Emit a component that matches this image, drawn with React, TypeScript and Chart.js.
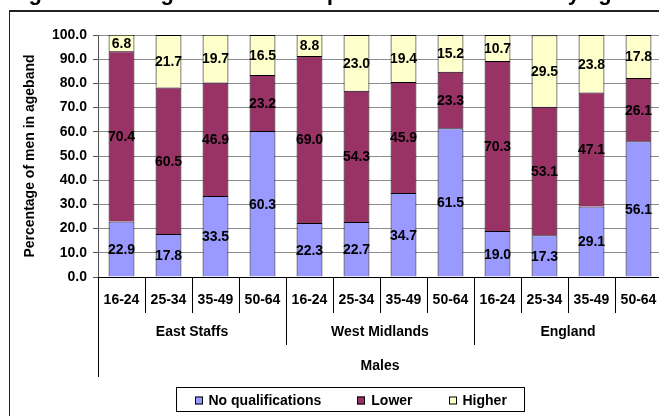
import React, { useEffect, useRef } from "react";
import { Chart, registerables } from "chart.js";

Chart.register(...registerables);

// ---------- data ----------
const ageBands = ["16-24", "25-34", "35-49", "50-64"];
const areas = ["East Staffs", "West Midlands", "England"];
const categories = areas.flatMap(() => ageBands);
const noQualifications = [22.9, 17.8, 33.5, 60.3, 22.3, 22.7, 34.7, 61.5, 19.0, 17.3, 29.1, 56.1];
const lowerQualifications = [70.4, 60.5, 46.9, 23.2, 69.0, 54.3, 45.9, 23.3, 70.3, 53.1, 47.1, 26.1];
const higherQualifications = [6.8, 21.7, 19.7, 16.5, 8.8, 23.0, 19.4, 15.2, 10.7, 29.5, 23.8, 17.8];
const seriesNames = ["No qualifications", "Lower", "Higher"];
const seriesColors = ["#9999FF", "#993366", "#FFFFCC"];
const yMin = 0;
const yMax = 100;
const yStep = 10;
const outerAxisLabel = "Males";
const yAxisTitle = "Percentage of men in ageband";
const chartTitle = "Figure 3.13: Highest levels of qualifications for men by ageband";

// ---------- layout constants ----------
const CANVAS_W = 670;
const CANVAS_H = 430;
const FONT = '"Liberation Sans", Arial, sans-serif';

const decorPlugin = {
  id: "decor",
  afterDatasetsDraw(chart: any) {
    const ctx = chart.ctx;
    ctx.save();
    ctx.font = `bold 14px ${FONT}`;
    ctx.fillStyle = "#000";
    ctx.textAlign = "center";
    ctx.textBaseline = "middle";
    chart.data.datasets.forEach((ds: any, di: number) => {
      const meta = chart.getDatasetMeta(di);
      meta.data.forEach((el: any, i: number) => {
        const v = ds.data[i];
        const y = (el.y + el.base) / 2;
        ctx.fillText(Number(v).toFixed(1), el.x, y + 1);
      });
    });
    ctx.restore();
  },
  afterDraw(chart: any) {
    const ctx = chart.ctx;
    const area = chart.chartArea;
    const xs = chart.scales.x;
    ctx.save();

    // title (cut off at the top edge)
    ctx.font = `bold 22px ${FONT}`;
    ctx.fillStyle = "#000";
    ctx.textAlign = "left";
    ctx.textBaseline = "alphabetic";
    ctx.fillText(chartTitle, 9, 0);

    // outer frame
    ctx.strokeStyle = "#222";
    ctx.lineWidth = 2;
    ctx.beginPath();
    ctx.moveTo(9, 11);
    ctx.lineTo(CANVAS_W, 11);
    ctx.stroke();
    ctx.lineWidth = 1;
    ctx.beginPath();
    ctx.moveTo(9.5, 11);
    ctx.lineTo(9.5, CANVAS_H);
    ctx.stroke();

    // category separators
    const n = categories.length;
    const w = (area.right - area.left) / n;
    ctx.strokeStyle = "#000";
    ctx.lineWidth = 1;
    for (let i = 0; i <= n; i++) {
      const x = Math.round(area.left + i * w) + 0.5;
      let y2 = area.bottom + 36;
      if (i % ageBands.length === 0) y2 = area.bottom + 68;
      if (i === 0) y2 = area.bottom + 100;
      ctx.beginPath();
      ctx.moveTo(x, area.bottom);
      ctx.lineTo(x, y2);
      ctx.stroke();
    }

    // group labels
    ctx.font = `bold 14px ${FONT}`;
    ctx.textAlign = "center";
    ctx.textBaseline = "middle";
    areas.forEach((a, gi) => {
      const first = xs.getPixelForValue(gi * ageBands.length);
      const last = xs.getPixelForValue(gi * ageBands.length + ageBands.length - 1);
      ctx.fillText(a, (first + last) / 2, area.bottom + 55);
    });
    ctx.fillText(outerAxisLabel, (area.left + area.right) / 2, area.bottom + 89);

    // legend
    const pad = 18, sq = 8, gap = 6, itemGap = 36;
    const widths = seriesNames.map((s) => ctx.measureText(s).width);
    const total = pad * 2 + widths.reduce((a, b) => a + b, 0) + seriesNames.length * (sq + gap) + itemGap * (seriesNames.length - 1);
    const cx = 350.5;
    const bx = Math.round(cx - total / 2) + 0.5;
    const by = 387.5;
    ctx.strokeStyle = "#000";
    ctx.strokeRect(bx, by, Math.round(total), 24);
    let x = bx + pad;
    const ly = by + 13;
    ctx.textAlign = "left";
    seriesNames.forEach((s, i) => {
      ctx.fillStyle = seriesColors[i];
      ctx.fillRect(Math.round(x), ly - 4, sq, sq);
      ctx.strokeStyle = "#000";
      ctx.strokeRect(Math.round(x) + 0.5, ly - 4 + 0.5, sq - 1, sq - 1);
      ctx.fillStyle = "#000";
      ctx.fillText(s, x + sq + gap, ly + 1);
      x += sq + gap + widths[i] + itemGap;
    });

    ctx.restore();
  },
};

export default function App() {
  const ref = useRef<HTMLCanvasElement | null>(null);
  useEffect(() => {
    if (!ref.current) return;
    const chart = new Chart(ref.current, {
      type: "bar",
      data: {
        labels: categories,
        datasets: [
          { label: seriesNames[0], data: noQualifications, backgroundColor: seriesColors[0] },
          { label: seriesNames[1], data: lowerQualifications, backgroundColor: seriesColors[1] },
          { label: seriesNames[2], data: higherQualifications, backgroundColor: seriesColors[2] },
        ].map((d) => ({
          ...d,
          borderColor: "#000",
          borderWidth: 1,
          barPercentage: 0.55,
          categoryPercentage: 1,
        })),
      },
      options: {
        responsive: false,
        maintainAspectRatio: false,
        devicePixelRatio: 1,
        animation: false,
        layout: { padding: { left: 0, top: 35, right: CANVAS_W - 662, bottom: 0 } },
        plugins: { legend: { display: false }, tooltip: { enabled: false } },
        scales: {
          x: {
            stacked: true,
            grid: { display: false },
            border: { display: true, color: "#000" },
            ticks: { color: "#000", font: { family: FONT, size: 14, weight: "bold" }, padding: 7, maxRotation: 0, autoSkip: false },
            afterFit: (s: any) => { s.height = CANVAS_H - 277; },
          },
          y: {
            stacked: true,
            min: yMin,
            max: yMax,
            ticks: {
              stepSize: yStep,
              color: "#000",
              font: { family: FONT, size: 14, weight: "bold" },
              padding: 6,
              callback: (v: any) => Number(v).toFixed(1),
            },
            grid: { color: "#8c8c8c", tickLength: 5, tickColor: "#555" },
            border: { display: true, color: "#555" },
            title: {
              display: true,
              text: yAxisTitle,
              color: "#000",
              font: { family: FONT, size: 14, weight: "bold" },
              padding: { top: 22, bottom: 0 },
            },
            afterFit: (s: any) => { s.width = 98; },
          },
        },
      },
      plugins: [decorPlugin],
    } as any);
    return () => chart.destroy();
  }, []);
  return (
    <div style={{ position: "fixed", left: 0, top: 0, width: 659, height: 416, overflow: "hidden", background: "#fff" }}>
      <canvas ref={ref} width={CANVAS_W} height={CANVAS_H} style={{ display: "block" }} />
    </div>
  );
}
